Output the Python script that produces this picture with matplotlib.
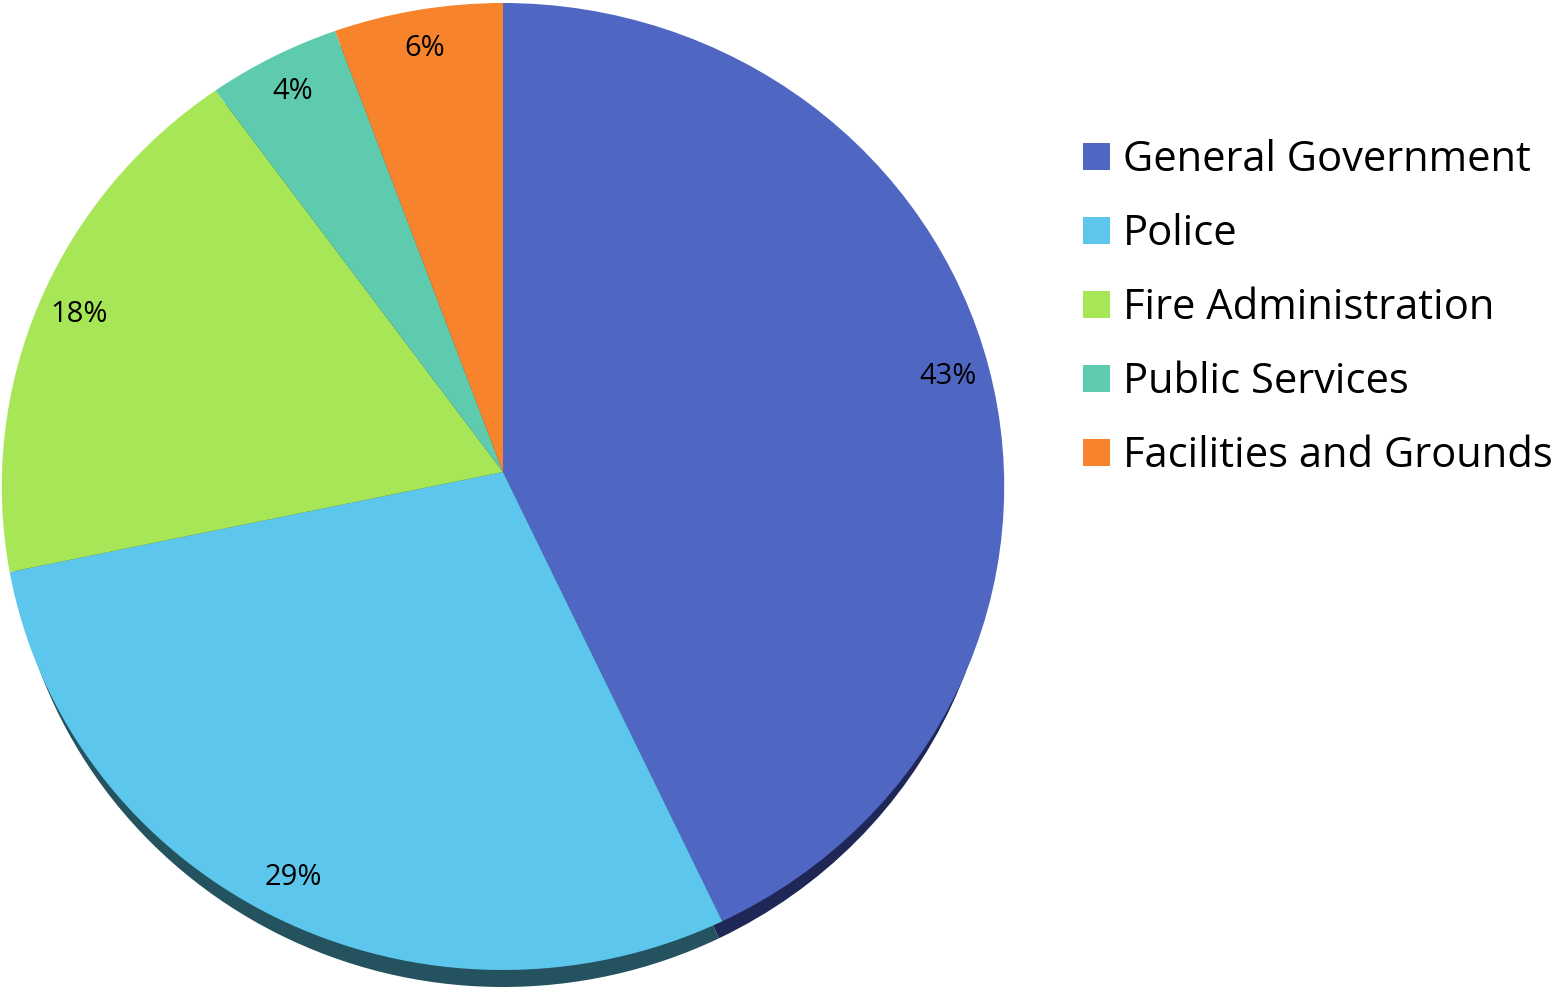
import numpy as np
import matplotlib.pyplot as plt
from matplotlib.patches import Patch
from matplotlib.transforms import Transform, Affine2D

plt.rcParams['font.family'] = ['Open Sans', 'DejaVu Sans']

# Data
categories = ['General Government', 'Police', 'Fire Administration',
              'Public Services', 'Facilities and Grounds']
shares = [43.0, 28.7, 18.3, 4.4, 5.6]
colors = ['#4F67C3', '#5DC6EC', '#A6E657', '#5ECBAF', '#F7842C']
shadow_colors = ['#1E2755', '#24525F', '#3E5A20', '#24504A', '#6A3810']


class Tilt(Transform):
    """Perspective view of the unit pie disc, output in pixel units (y down)."""
    input_dims = 2
    output_dims = 2

    def __init__(self, cx, cy, s, top, bottom):
        super().__init__()
        self.cx, self.cy, self.s = cx, cy, s
        # y=1 -> top, y=-1 -> bottom, y=0 -> cy
        self.g = (top + bottom - 2 * cy) / (bottom - top)
        self.d = top * (1 + self.g) - cy

    def transform_non_affine(self, values):
        v = np.asarray(values, dtype=float)
        x, y = v[:, 0], v[:, 1]
        den = 1 + self.g * y
        return np.column_stack([self.cx + self.s * x / den,
                                (self.d * y + self.cy) / den])


W, H = 1552, 991
fig = plt.figure(figsize=(W / 100, H / 100), dpi=100)
ax = fig.add_axes([0, 0, 1, 1])

cx, cy = 503, 472
tilt = Tilt(cx, cy, 501, 3, 970)

# side of the disc, only visible along the lower rim
shadow, _ = ax.pie(shares, colors=shadow_colors, startangle=90, counterclock=False,
                   wedgeprops=dict(linewidth=0))
side = Affine2D().translate(-cx, -cy).scale(0.985, 1).translate(cx, cy + 17)
for w in shadow:
    w.set_transform(tilt + side + ax.transData)

wedges, texts, autotexts = ax.pie(
    shares, colors=colors, startangle=90, counterclock=False,
    autopct='%.0f%%', pctdistance=0.915,
    wedgeprops=dict(linewidth=0),
    textprops=dict(fontsize=21, color='black'))
for w in wedges:
    w.set_transform(tilt + ax.transData)
for t in autotexts:
    t.set_transform(tilt + ax.transData)

ax.set_aspect('auto')
ax.set_xlim(0, W)
ax.set_ylim(H, 0)
ax.axis('off')

handles = [Patch(facecolor=c, edgecolor='none') for c in colors]
fig.legend(handles, categories, loc='upper left',
           bbox_to_anchor=(1083 / W, 1 - 139 / H),
           frameon=False, fontsize=30,
           handlelength=0.64, handleheight=0.64, handletextpad=0.32,
           labelspacing=0.77, borderpad=0, borderaxespad=0)

plt.savefig('out.png', dpi=100)
